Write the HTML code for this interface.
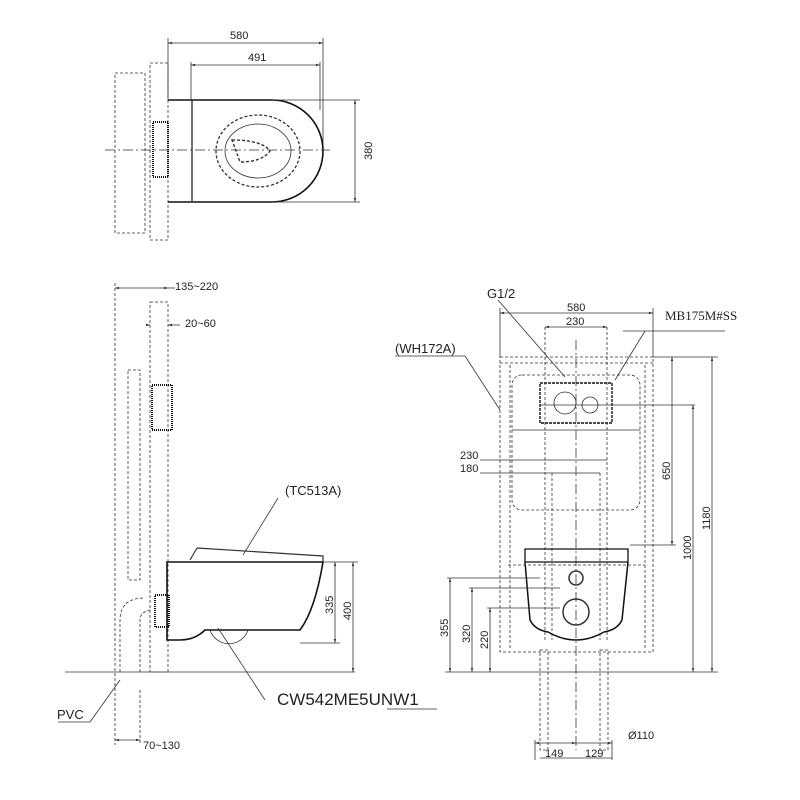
<!DOCTYPE html>
<html><head><meta charset="utf-8"><style>body{margin:0;background:#fff}svg{display:block}text{font-family:"Liberation Sans",sans-serif;font-size:11px;fill:#222}</style></head><body>
<svg width="800" height="800" viewBox="0 0 800 800" xmlns="http://www.w3.org/2000/svg">
<defs><marker id="a" viewBox="0 0 10 10" refX="10" refY="5" markerWidth="5" markerHeight="5" orient="auto-start-reverse"><path d="M0,2L10,5L0,8z" fill="#333"/></marker></defs>
<g fill="none" stroke="#333" stroke-width="0.8">
<!-- TOP VIEW -->
<line x1="168" y1="43" x2="323" y2="43" marker-start="url(#a)" marker-end="url(#a)"/>
<line x1="191" y1="65" x2="320" y2="65" marker-start="url(#a)" marker-end="url(#a)"/>
<line x1="168" y1="38" x2="168" y2="100"/><line x1="323" y1="38" x2="323" y2="150"/><line x1="191" y1="62" x2="191" y2="100"/><line x1="320" y1="62" x2="320" y2="110"/>
<rect x="150" y="63" width="18" height="177" stroke-dasharray="3,2"/>
<rect x="115" y="73" width="30" height="160" stroke-dasharray="3,2"/>
<path d="M168,100 H272 A51,51 0 0 1 272,202 H168" stroke="#111" stroke-width="1.6"/>
<line x1="192" y1="100" x2="192" y2="202" stroke-width="1.4"/>
<ellipse cx="258" cy="151" rx="42" ry="36" stroke-dasharray="3,2" stroke-width="1.3"/>
<ellipse cx="258" cy="151" rx="33" ry="27"/>
<path d="M232,140 Q262,140 270,151 Q262,162 240,162 Z" stroke-dasharray="3,2" stroke-width="1.4"/>
<line x1="105" y1="150" x2="330" y2="150" stroke-dasharray="10,3,2,3"/>
<line x1="355" y1="100" x2="355" y2="202" marker-start="url(#a)" marker-end="url(#a)"/>
<line x1="272" y1="100" x2="360" y2="100"/><line x1="272" y1="202" x2="360" y2="202"/>
<rect x="153" y="122" width="15" height="55" stroke="#111" stroke-dasharray="1,1" stroke-width="2"/>
<!-- SIDE VIEW -->
<line x1="115" y1="288" x2="168" y2="288" marker-start="url(#a)" marker-end="url(#a)"/>
<line x1="168" y1="288" x2="175" y2="288"/>
<line x1="148" y1="325" x2="150" y2="325" marker-end="url(#a)"/><line x1="180" y1="325" x2="168" y2="325" marker-end="url(#a)"/>
<line x1="115" y1="283" x2="115" y2="745" stroke-dasharray="3,2"/>
<rect x="150" y="302" width="18" height="370" stroke-dasharray="3,2"/>
<line x1="65" y1="672" x2="355" y2="672"/>
<rect x="128" y="370" width="12" height="210" stroke-dasharray="3,2"/>
<rect x="152" y="385" width="20" height="45" stroke="#111" stroke-dasharray="1,1" stroke-width="2"/>
<rect x="155" y="595" width="14" height="32" stroke="#111" stroke-dasharray="1,1" stroke-width="2"/>
<path d="M167,562 H323 Q315,610 300,630 H205 Q195,640 180,640 H167 Z" stroke="#111" stroke-width="1.6"/>
<path d="M197,548 Q260,552 323,556 L323,562 M197,548 L190,560" stroke-width="1.2"/>
<path d="M210,630 A20,20 0 0 0 248,630"/>
<path d="M120,672 V620 Q120,598 145,598" stroke-dasharray="3,2"/>
<path d="M140,672 V620 Q140,612 150,610" stroke-dasharray="3,2"/>
<line x1="335" y1="562" x2="335" y2="643" marker-start="url(#a)" marker-end="url(#a)"/>
<line x1="353" y1="562" x2="353" y2="672" marker-start="url(#a)" marker-end="url(#a)"/>
<line x1="323" y1="562" x2="358" y2="562"/><line x1="300" y1="643" x2="340" y2="643"/>
<line x1="278" y1="498" x2="243" y2="555"/>
<line x1="218" y1="628" x2="265" y2="700"/>
<line x1="387" y1="709" x2="437" y2="709"/>
<line x1="58" y1="722" x2="90" y2="722"/><line x1="90" y1="722" x2="120" y2="680"/>
<line x1="115" y1="740" x2="140" y2="740" marker-start="url(#a)" marker-end="url(#a)"/>
<line x1="140" y1="690" x2="140" y2="745" stroke-dasharray="3,2"/>
<!-- FRONT VIEW -->
<line x1="500" y1="313" x2="653" y2="313" marker-start="url(#a)" marker-end="url(#a)"/>
<line x1="545" y1="327" x2="607" y2="327" marker-start="url(#a)" marker-end="url(#a)"/>
<line x1="500" y1="308" x2="500" y2="357"/><line x1="653" y1="308" x2="653" y2="357"/>
<rect x="500" y="357" width="153" height="295" stroke-dasharray="3,2"/>
<line x1="510" y1="365" x2="510" y2="650" stroke-dasharray="3,2"/><line x1="645" y1="365" x2="645" y2="650" stroke-dasharray="3,2"/>
<line x1="500" y1="363" x2="653" y2="363" stroke-dasharray="3,2"/>
<rect x="512" y="375" width="128" height="135" rx="10" stroke-dasharray="3,2"/>
<line x1="512" y1="430" x2="640" y2="430"/>
<rect x="540" y="383" width="72" height="40" stroke="#111" stroke-width="1.4" stroke-dasharray="3,1"/>
<circle cx="565" cy="403" r="11"/><circle cx="590" cy="405" r="8"/>
<line x1="576" y1="340" x2="576" y2="750" stroke-dasharray="10,3,2,3"/>
<line x1="545" y1="327" x2="545" y2="640" stroke-dasharray="3,2"/><line x1="607" y1="327" x2="607" y2="640" stroke-dasharray="3,2"/>
<line x1="540" y1="405" x2="695" y2="405"/>
<line x1="653" y1="357" x2="718" y2="357"/>
<line x1="672" y1="357" x2="672" y2="545" marker-start="url(#a)" marker-end="url(#a)"/>
<line x1="693" y1="405" x2="693" y2="672" marker-start="url(#a)" marker-end="url(#a)"/>
<line x1="712" y1="357" x2="712" y2="672" marker-start="url(#a)" marker-end="url(#a)"/>
<line x1="630" y1="545" x2="676" y2="545"/>
<line x1="445" y1="672" x2="718" y2="672"/>
<line x1="480" y1="460" x2="607" y2="460"/><line x1="480" y1="473" x2="600" y2="473"/>
<line x1="552" y1="473" x2="552" y2="640" stroke-dasharray="3,2"/><line x1="600" y1="473" x2="600" y2="640" stroke-dasharray="3,2"/>
<path d="M525,549 H628 V562 H525 Z" stroke="#111" stroke-width="1.3"/>
<path d="M525,562 L530,620 Q535,630 548,632 Q576,648 604,632 Q617,630 622,620 L628,562" stroke="#111" stroke-width="1.5"/>
<circle cx="576" cy="578" r="7" stroke-width="1.5"/>
<circle cx="576" cy="612" r="13" stroke-width="1.5"/>
<line x1="508" y1="565" x2="645" y2="565" stroke-dasharray="3,2"/>
<line x1="450" y1="578" x2="450" y2="672" marker-start="url(#a)" marker-end="url(#a)"/>
<line x1="472" y1="588" x2="472" y2="672" marker-start="url(#a)" marker-end="url(#a)"/>
<line x1="490" y1="608" x2="490" y2="672" marker-start="url(#a)" marker-end="url(#a)"/>
<line x1="447" y1="578" x2="540" y2="578"/><line x1="469" y1="588" x2="560" y2="588"/><line x1="487" y1="608" x2="560" y2="608"/>
<rect x="540" y="650" width="8" height="100" stroke-dasharray="3,2"/><rect x="600" y="650" width="8" height="100" stroke-dasharray="3,2"/>
<line x1="535" y1="743" x2="576" y2="743" marker-start="url(#a)" marker-end="url(#a)"/>
<line x1="576" y1="743" x2="612" y2="743" marker-end="url(#a)"/>
<line x1="535" y1="740" x2="535" y2="760"/><line x1="612" y1="740" x2="612" y2="760"/>
<line x1="540" y1="758" x2="612" y2="758"/>
<line x1="498" y1="300" x2="565" y2="377"/>
<line x1="623" y1="331" x2="725" y2="331"/><line x1="645" y1="331" x2="615" y2="380"/>
<line x1="395" y1="356" x2="465" y2="356"/><line x1="465" y1="356" x2="500" y2="410"/>
</g>
<text x="230" y="39">580</text>
<text x="248" y="61">491</text>
<text x="0" y="0" transform="translate(372,160) rotate(-90)">380</text>
<text x="175" y="290">135~220</text>
<text x="185" y="327">20~60</text>
<text x="285" y="495" style="font-size:13px">(TC513A)</text>
<text x="0" y="0" transform="translate(333,614) rotate(-90)">335</text>
<text x="0" y="0" transform="translate(351,620) rotate(-90)">400</text>
<text x="277" y="705" style="font-size:17px">CW542ME5UNW1</text>
<text x="57" y="719" style="font-size:13px">PVC</text>
<text x="143" y="749">70~130</text>
<text x="487" y="298" style="font-size:13px">G1/2</text>
<text x="567" y="311">580</text>
<text x="566" y="325">230</text>
<text x="665" y="320" style="font-family:'Liberation Serif',serif;font-size:13px">MB175M#SS</text>
<text x="395" y="353" style="font-size:13px">(WH172A)</text>
<text x="460" y="459">230</text>
<text x="460" y="472">180</text>
<text x="0" y="0" transform="translate(670,480) rotate(-90)">650</text>
<text x="0" y="0" transform="translate(691,560) rotate(-90)">1000</text>
<text x="0" y="0" transform="translate(710,530) rotate(-90)">1180</text>
<text x="0" y="0" transform="translate(448,637) rotate(-90)">355</text>
<text x="0" y="0" transform="translate(470,643) rotate(-90)">320</text>
<text x="0" y="0" transform="translate(488,649) rotate(-90)">220</text>
<text x="628" y="739">Ø110</text>
<text x="545" y="757">149</text>
<text x="585" y="757">129</text>
</svg>
</body></html>
